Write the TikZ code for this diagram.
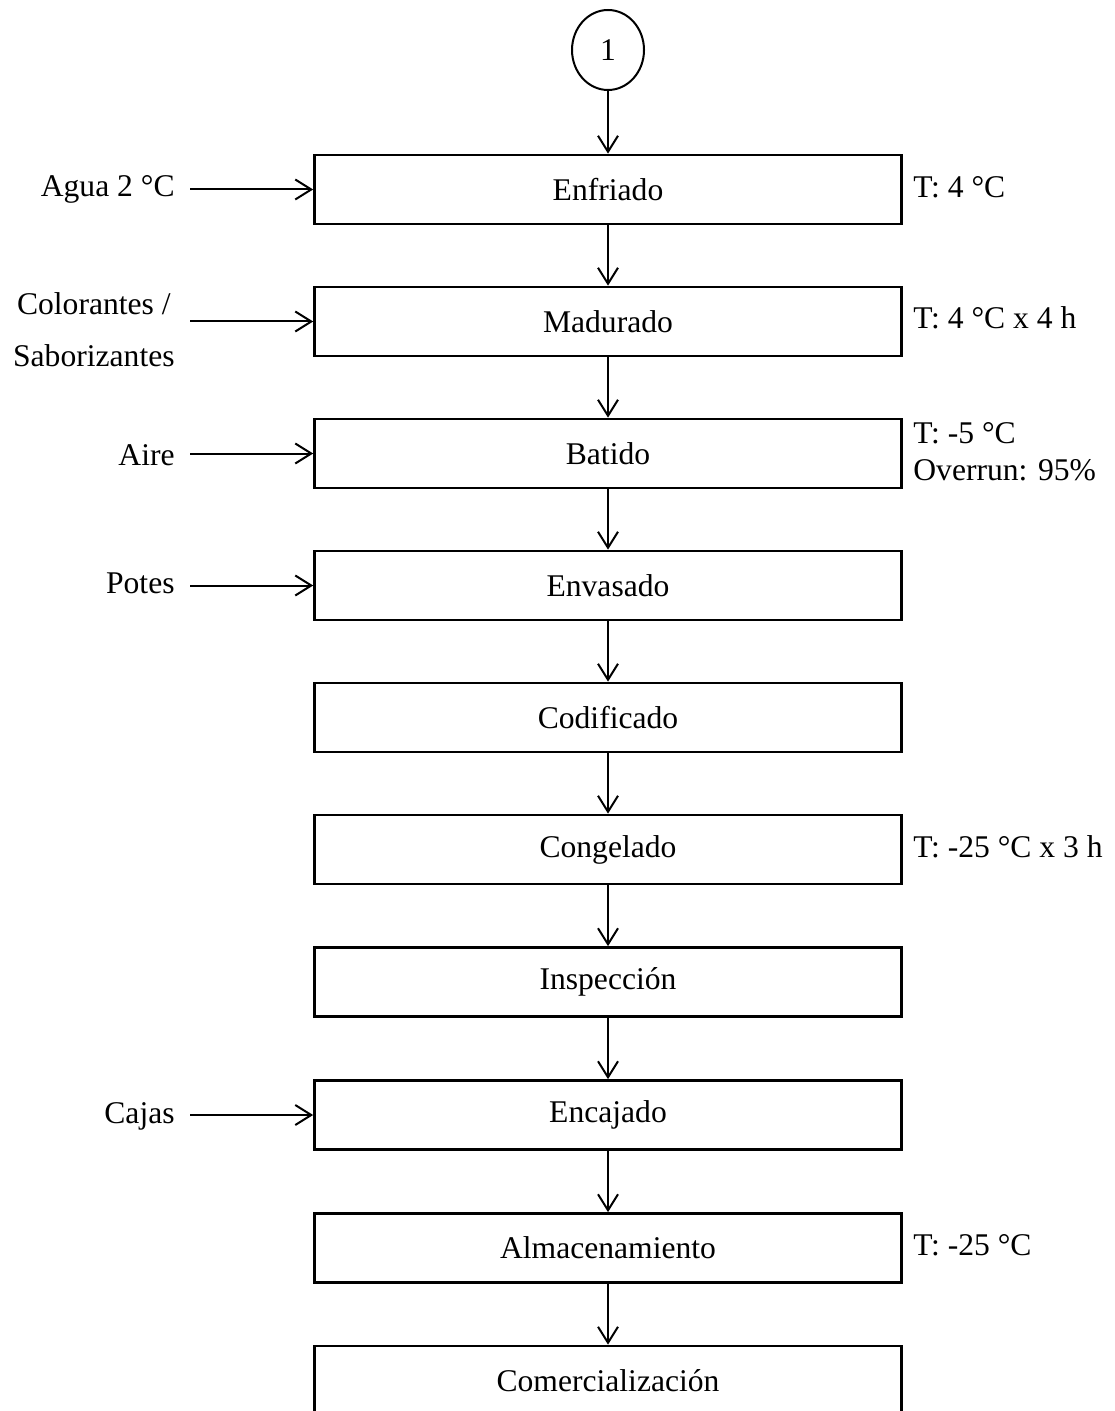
\documentclass[tikz,border=0pt]{standalone}
\usepackage{fontspec}
\setmainfont{Liberation Serif}
\usetikzlibrary{arrows.meta,shapes.geometric}
\tikzset{
  stepbox/.style={draw, line width=1.35pt, minimum width=293.5pt, minimum height=34.5pt, inner sep=0pt},
  arr/.style={line width=1pt, -{Straight Barb[length=8pt,width=10pt,line width=1pt]}},
  inlab/.style={anchor=east, inner xsep=7.5pt, inner ysep=0pt, align=center},
  outlab/.style={anchor=west, inner sep=0pt, align=left},
}
\begin{document}
\begin{tikzpicture}[x=0.5pt,y=-0.5pt,font=\fontsize{15.8}{18.5}\selectfont]
\path[use as bounding box] (0,0) rectangle (1114,1411);
\fill[white] (0,0) rectangle (1114,1411);
\clip (0,0) rectangle (1114,1411);

\node[draw, ellipse, line width=1pt, minimum width=36pt, minimum height=40pt, inner sep=0pt] (c1) at (608,50) {1};

\node[stepbox] (b1) at (608,189.5) {Enfriado};
\node[stepbox] (b2) at (608,321.5) {Madurado};
\node[stepbox] (b3) at (608,453.5) {Batido};
\node[stepbox] (b4) at (608,585.5) {Envasado};
\node[stepbox] (b5) at (608,717.5) {Codificado};
\node[stepbox] (b6) at (608,849.5) {Congelado};
\node[stepbox] (b7) at (608,982) {Inspección};
\node[stepbox] (b8) at (608,1115) {Encajado};
\node[stepbox] (b9) at (608,1248) {Almacenamiento};
\node[stepbox] (b10) at (608,1380.5) {Comercialización};

\draw[arr] (c1.south) -- (b1.north);
\draw[arr] (b1.south) -- (b2.north);
\draw[arr] (b2.south) -- (b3.north);
\draw[arr] (b3.south) -- (b4.north);
\draw[arr] (b4.south) -- (b5.north);
\draw[arr] (b5.south) -- (b6.north);
\draw[arr] (b6.south) -- (b7.north);
\draw[arr] (b7.south) -- (b8.north);
\draw[arr] (b8.south) -- (b9.north);
\draw[arr] (b9.south) -- (b10.north);

\node[inlab] (agua) at (190,189.5) {Agua 2 °C};
\node[inlab] (colsab) at (190,330) {Colorantes /\\[7.5pt]Saborizantes};
\node[inlab] (aire) at (190,455) {Aire};
\node[inlab] (potes) at (190,583) {Potes};
\node[inlab] (cajas) at (190,1116) {Cajas};

\draw[arr] (agua.east) -- (b1.west);
\draw[arr] (colsab.east |- b2.west) -- (b2.west);
\draw[arr] (aire.east |- b3.west) -- (b3.west);
\draw[arr] (potes.east |- b4.west) -- (b4.west);
\draw[arr] (cajas.east |- b8.west) -- (b8.west);

\node[outlab] (t1) at (913,187) {T: 4 °C};
\node[outlab] (t2) at (913,318) {T: 4 °C x 4 h};
\node[outlab] (t3) at (913,452) {T: -5 °C\\Overrun: 95\%};
\node[outlab] (t6) at (913,847) {T: -25 °C x 3 h};
\node[outlab] (t9) at (913,1245) {T: -25 °C};
\end{tikzpicture}
\end{document}
